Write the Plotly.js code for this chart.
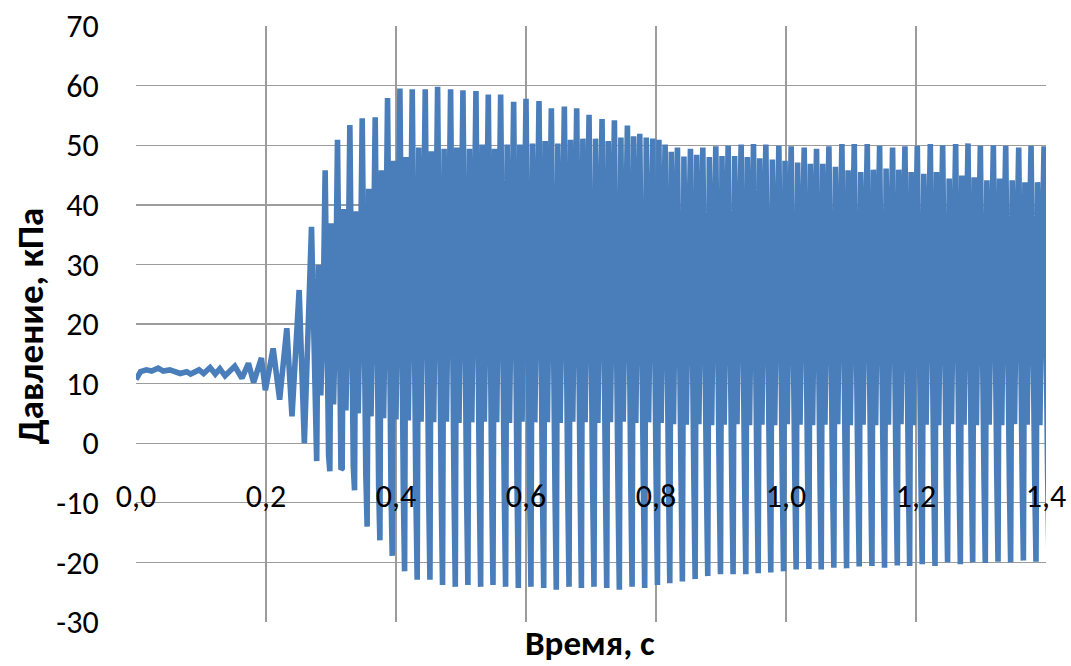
<!DOCTYPE html>
<html>
<head>
<meta charset="utf-8">
<script src="https://cdn.plot.ly/plotly-3.0.1.min.js"></script>
<style>html,body{margin:0;padding:0;background:#fff;}#chart{width:1071px;height:666px;}</style>
</head>
<body>
<div id="chart"></div>
<script>
// Start of the record (small wiggles, then a growing single oscillation): time, s / pressure, kPa
const earlyTime = [0.000, 0.007, 0.016, 0.024, 0.034, 0.042, 0.052, 0.068, 0.078, 0.084, 0.097, 0.104, 0.114, 0.122, 0.129, 0.137,
  0.152, 0.163, 0.173, 0.181, 0.193, 0.199, 0.211, 0.221, 0.232, 0.240, 0.251, 0.259];
const earlyPressure = [10.7, 12.0, 12.3, 12.1, 12.6, 12.1, 12.3, 11.7, 12.0, 11.6, 12.3, 11.7, 12.7, 11.6, 12.5, 11.3,
  12.9, 10.9, 13.4, 10.2, 14.3, 8.9, 15.9, 7.3, 19.3, 4.5, 25.7, 0.0];

// One entry per developed oscillation cycle (time of the main peak, s)
const cycleTime = [0.270, 0.291, 0.310, 0.329, 0.348, 0.368, 0.387, 0.406,
  0.425, 0.445, 0.464, 0.484, 0.503, 0.523, 0.542, 0.561, 0.581, 0.600, 0.620, 0.639, 0.659, 0.678, 0.697, 0.717, 0.736, 0.756, 0.775, 0.795,
  0.814, 0.833, 0.853, 0.872, 0.892, 0.911, 0.931, 0.950, 0.969, 0.989, 1.008, 1.028, 1.047, 1.066, 1.086, 1.105,
  1.125, 1.144, 1.164, 1.183, 1.202, 1.222, 1.241, 1.261, 1.280, 1.299, 1.319, 1.338, 1.358, 1.377, 1.397];
// Main (tall) peak, kPa
const peakHigh = [36.3, 45.8, 50.9, 53.4, 54.5, 54.7, 57.9, 59.5,
  59.4, 59.4, 59.8, 59.4, 59.2, 59.1, 58.5, 58.5, 57.3, 57.8, 57.4, 56.2, 56.5, 56.2, 55.1, 54.4, 54.2, 53.3, 51.9, 51.1,
  50.1, 49.6, 49.4, 49.6, 49.8, 49.9, 50.1, 50.2, 50.1, 49.9, 49.8, 49.6, 49.4, 49.8, 50.2, 50.2,
  50.2, 49.9, 49.6, 49.8, 49.9, 50.2, 50.0, 50.2, 50.3, 49.9, 50.0, 49.9, 49.6, 49.9, 49.8];
// Shallow trough, kPa
const troughShallow = [-2.1, -2.1, -4.4, -3.9, -5.3, -7.3, -7.9, -8.3,
  -8.5, -8.5, -8.5, -8.5, -8.3, -8.5, -8.2, -8.4, -8.0, -8.3, -8.1, -7.9, -8.2, -7.8, -8.0, -7.7, -7.9, -7.5, -7.4, -7.0,
  -6.5, -6.4, -6.6, -6.2, -6.4, -6.1, -6.3, -6.0, -6.2, -6.0, -6.1, -5.9, -6.1, -5.8, -6.0, -5.9,
  -6.0, -5.8, -6.0, -5.7, -5.9, -5.8, -6.0, -5.7, -5.9, -5.8, -5.6, -5.8, -5.7, -5.9, -5.6];
// Deep trough, kPa
const troughDeep = [-3.0, -4.7, -4.2, -7.9, -14.0, -16.3, -18.9, -21.5,
  -22.9, -22.9, -23.8, -24.1, -23.8, -24.1, -23.8, -24.1, -24.3, -24.1, -24.3, -24.6, -24.1, -24.3, -24.1, -24.3, -24.6, -24.1, -24.3, -23.8,
  -23.5, -23.2, -22.8, -22.3, -22.0, -22.0, -22.0, -21.8, -21.7, -21.5, -21.2, -21.1, -21.2, -20.9, -21.0, -20.7,
  -20.6, -20.9, -20.5, -20.6, -20.3, -20.6, -20.0, -20.3, -20.0, -20.1, -19.9, -20.0, -19.7, -19.9, -19.6];
// Secondary peak, kPa
const peakSecond = [29.9, 36.9, 39.3, 38.9, 42.7, 45.8, 47.4, 48.0,
  49.6, 49.0, 49.4, 49.6, 49.4, 50.1, 49.4, 50.1, 50.1, 50.3, 50.7, 50.3, 50.9, 51.1, 51.1, 50.7, 51.3, 51.5, 51.3, 50.9,
  48.9, 48.1, 48.4, 48.0, 48.2, 48.2, 48.0, 47.8, 47.6, 47.4, 47.1, 46.9, 46.9, 46.4, 45.8, 45.5,
  45.9, 46.1, 45.9, 45.5, 45.2, 45.5, 44.4, 44.9, 44.6, 44.1, 44.4, 44.1, 43.8, 43.8, 43.5];
// Lower edge of the dense middle band (small inner minimum), kPa
const bandLow = [8.0, 6.5, 5.5, 5.0, 4.5, 4.2, 4.0, 3.8,
  3.6, 3.5, 3.6, 3.4, 3.5, 3.6, 3.5, 3.4, 3.6, 3.5, 3.5, 3.4, 3.6, 3.5, 3.4, 3.5, 3.6, 3.4, 3.5, 3.4,
  3.2, 3.1, 3.2, 3.0, 3.1, 3.2, 3.0, 3.1, 3.0, 3.2, 3.1, 3.0, 3.1, 3.2, 3.0, 3.1,
  3.0, 3.1, 3.2, 3.0, 3.1, 3.0, 3.2, 3.1, 3.0, 3.1, 3.0, 3.2, 3.1, 3.0, 3.1];
// Upper edge of the dense middle band (small inner maximum), kPa
const bandHigh = [20.0, 22.0, 24.0, 25.0, 26.0, 27.0, 28.0, 29.0,
  29.5, 30.0, 30.2, 30.0, 30.3, 30.1, 30.0, 30.4, 30.2, 30.0, 30.3, 30.1, 30.2, 30.0, 30.3, 30.1, 30.0, 30.2, 30.1, 30.0,
  30.2, 30.0, 30.1, 30.3, 30.0, 30.2, 30.1, 30.0, 30.2, 30.1, 30.3, 30.0, 30.1, 30.2, 30.0, 30.1,
  30.2, 30.0, 30.1, 30.3, 30.0, 30.2, 30.1, 30.0, 30.2, 30.1, 30.0, 30.2, 30.1, 30.0, 30.2];

const xTickVals = [0, 0.2, 0.4, 0.6, 0.8, 1.0, 1.2, 1.4];
const xTickText = ['0,0', '0,2', '0,4', '0,6', '0,8', '1,0', '1,2', '1,4'];
const yTickVals = [-30, -20, -10, 0, 10, 20, 30, 40, 50, 60, 70];
const yTickText = ['-30', '-20', '-10', '0', '10', '20', '30', '40', '50', '60', '70'];

// Build the polyline: start of record, then each cycle's turning points in order
const xs = earlyTime.slice();
const ys = earlyPressure.slice();
for (let i = 0; i < cycleTime.length; i++) {
  const t = cycleTime[i];
  const next = i + 1 < cycleTime.length ? cycleTime[i + 1] : t + (t - cycleTime[i - 1]);
  const T = next - t;
  xs.push(t, t + 0.28 * T, t + 0.38 * T, t + 0.5 * T, t + 0.68 * T, t + 0.84 * T);
  ys.push(peakHigh[i], troughShallow[i], troughDeep[i], peakSecond[i], bandLow[i], bandHigh[i]);
}

const gridColor = '#9c9c9c';
const fontFam = 'Carlito, Calibri, Lato, "Open Sans", sans-serif';

const trace = {
  x: xs, y: ys, type: 'scatter', mode: 'lines',
  line: {color: '#4a7ebb', width: 5.6},
  hoverinfo: 'skip', showlegend: false
};

const layout = {
  width: 1071, height: 666,
  margin: {l: 136, r: 25, t: 26, b: 44},
  paper_bgcolor: '#fff', plot_bgcolor: '#fff',
  showlegend: false,
  xaxis: {
    range: [0, 1.4], tickvals: xTickVals, ticktext: xTickText,
    showgrid: true, gridcolor: gridColor, gridwidth: 1.4, zeroline: false,
    showline: false,
    anchor: 'free', position: 0.3,
    ticks: 'outside', ticklen: 24, tickcolor: 'rgba(0,0,0,0)',
    tickfont: {family: fontFam, size: 32, color: '#000'}
  },
  yaxis: {
    range: [-30, 70], tickvals: yTickVals, ticktext: yTickText,
    showgrid: true, gridcolor: gridColor, gridwidth: 1.4, zeroline: false,
    showline: false,
    ticks: 'outside', ticklen: 30, tickcolor: 'rgba(0,0,0,0)',
    tickfont: {family: fontFam, size: 32, color: '#000'}
  },
  annotations: [
    {text: '<b>Давление, кПа</b>', xref: 'paper', yref: 'paper', x: -0.1165, y: 0.498,
     xanchor: 'center', yanchor: 'middle', textangle: -90, showarrow: false,
     font: {family: fontFam, size: 37, color: '#000'}},
    {text: '<b>Время, с</b>', xref: 'paper', yref: 'paper', x: 0.499, y: -0.0725,
     xanchor: 'center', yanchor: 'bottom', showarrow: false, borderpad: 0,
     font: {family: fontFam, size: 35, color: '#000'}}
  ]
};

Plotly.newPlot('chart', [trace], layout, {staticPlot: true, displayModeBar: false});
</script>
</body>
</html>
